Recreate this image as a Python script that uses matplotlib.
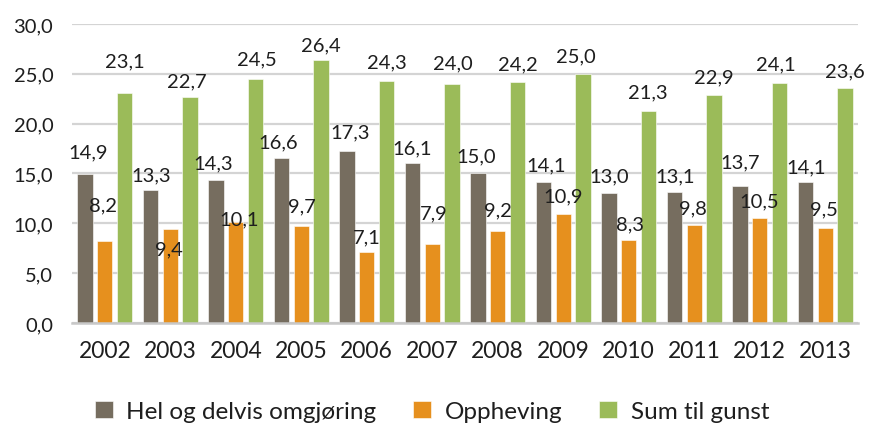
import matplotlib
matplotlib.use("Agg")
import matplotlib.pyplot as plt
import numpy as np

plt.rcParams["font.family"] = ["Lato", "DejaVu Sans"]

years = ["2002", "2003", "2004", "2005", "2006", "2007",
         "2008", "2009", "2010", "2011", "2012", "2013"]
series_names = ["Hel og delvis omgjøring", "Oppheving", "Sum til gunst"]
omgjoring = [14.9, 13.3, 14.3, 16.6, 17.3, 16.1, 15.0, 14.1, 13.0, 13.1, 13.7, 14.1]
oppheving = [8.2, 9.4, 10.1, 9.7, 7.1, 7.9, 9.2, 10.9, 8.3, 9.8, 10.5, 9.5]
sum_gunst = [23.1, 22.7, 24.5, 26.4, 24.3, 24.0, 24.2, 25.0, 21.3, 22.9, 24.1, 23.6]
yticks = [0, 5, 10, 15, 20, 25, 30]

colors = ["#766d5f", "#e6901e", "#9bbb59"]

# label offsets (pixels, relative to top-centre of each bar) as Excel placed them
lab_dx = [
    [3, 1, -3, -3, 3, 0, -2, 3, 0, 1, 0, 1],
    [-2, -1, 3, 1, 0, 1, 0, 0, 1, -1, -1, -1],
    [0, -3, 1, 0, 0, 1, 0, -7, -1, 0, -4, 0],
]
lab_dy = [
    [23, 16, 18, 16, 19, 15, 18, 18, 18, 17, 25, 16],
    [36, -20, 3, 20, 15, 31, 21, 18, 16, 17, 17, 19],
    [32, 16, 20, 15, 19, 21, 18, 18, 19, 18, 19, 17],
]

fig = plt.figure(figsize=(8.69, 4.27), dpi=100)
ax = fig.add_axes([0.0829, 0.2412, 0.9044, 0.7003])

x = np.arange(len(years))
step, width = 0.30, 0.234
px = 72 / 100  # points per pixel

for k, vals in enumerate([omgjoring, oppheving, sum_gunst]):
    xs = x + (k - 1) * step
    ax.bar(xs, vals, width=width, color=colors[k], edgecolor="white",
           linewidth=0.4, label=series_names[k], zorder=3)
    for i, v in enumerate(vals):
        ax.annotate(f"{v:.1f}".replace(".", ","), xy=(xs[i], v),
                    xytext=(lab_dx[k][i] * px, lab_dy[k][i] * px),
                    textcoords="offset points", ha="center", va="center",
                    fontsize=14.5, color="#1e1e1e", zorder=4)

ax.set_xlim(-0.5, len(years) - 0.5)
ax.set_ylim(0, 30)
ax.set_yticks(yticks)
ax.set_yticklabels([f"{t:.1f}".replace(".", ",") for t in yticks])
ax.set_xticks(x)
ax.set_xticklabels(years)
ax.tick_params(axis="y", length=0, pad=13.5, labelsize=14.5, labelcolor="#1e1e1e")
ax.tick_params(axis="x", length=0, pad=12.5, labelsize=16.5, labelcolor="#1e1e1e")

ax.grid(axis="y", color="#d4d4d4", linewidth=1.6, zorder=0)
ax.set_axisbelow(True)
for s in ["top", "right", "left"]:
    ax.spines[s].set_visible(False)
ax.spines["bottom"].set_color("#c8c8c8")
ax.spines["bottom"].set_linewidth(1.8)
ax.spines["bottom"].set_zorder(5)

fig.legend(loc="center", bbox_to_anchor=(0.497, 0.034), ncol=3, frameon=False,
           fontsize=17.5, handlelength=0.74, handleheight=0.74,
           handletextpad=0.57, columnspacing=1.5, borderpad=0,
           labelcolor="#1e1e1e")

fig.savefig("out.png", dpi=100)
